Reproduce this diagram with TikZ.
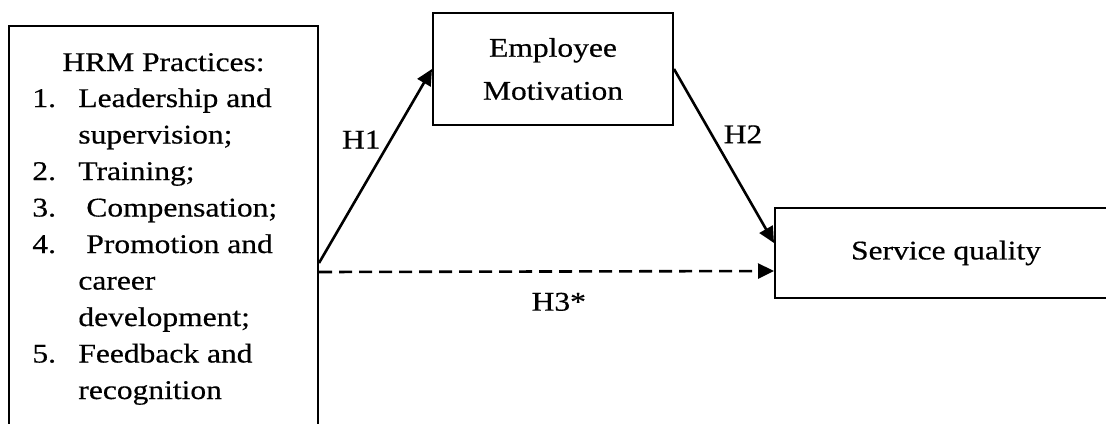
\documentclass[tikz,border=0pt]{standalone}
\usepackage{fontspec}
\setmainfont[FakeStretch=1.167, FakeBold=0.5]{Liberation Serif}
\usetikzlibrary{arrows.meta, positioning}
\tikzstyle{arrow} = [line width=1.3pt,-{Triangle[length=8pt,width=7.5pt]}]
\tikzstyle{dasharrow} = [arrow, dash pattern=on 6.5pt off 3.5pt]
\tikzstyle{rec} = [rectangle, line width=1pt, draw=black, text centered, inner sep=0pt]
\tikzstyle{lbl} = [inner sep=0pt]

\begin{document}
\begin{tikzpicture}[x=0.5pt, y=-0.5pt, font=\fontsize{13.5}{18.25}\selectfont]
				\useasboundingbox (0,0) rectangle (1106,423);
				\node (hrm) [rec, minimum width=154.5pt, minimum height=246pt, anchor=north] at (163.5,25) {};
				\node (hrmtitle) [lbl, anchor=base] at (163.5,71) {HRM Practices:};
				\node (hrmlist) [lbl, anchor=base west] at (32,107) {\begin{tabular}[t]{@{}p{23pt}@{}l@{}}
					1. & Leadership and\\
					   & supervision;\\
					2. & Training;\\
					3. & \hspace{4pt}Compensation;\\
					4. & \hspace{4pt}Promotion and\\
					   & career\\
					   & development;\\
					5. & Feedback and\\
					   & recognition
				\end{tabular}};
				\node (emp) [rec, minimum width=120pt, minimum height=56pt, align=center, font=\fontsize{13.5}{21.5}\selectfont] at (553,69) {Employee\\Motivation};
				\node (sq) [rec, minimum width=171pt, minimum height=45pt] at (946,253) {Service quality};
				\draw [arrow] ([yshift=4.5pt]hrm.east) -- (emp.west) node (h1) [lbl, pos=0.636, anchor=east, xshift=-4.5pt] {H1};
				\draw [arrow] (emp.east) -- ([yshift=5pt]sq.west) node (h2) [lbl, pos=0.375, anchor=west, xshift=5.5pt] {H2};
				\draw [dasharrow] (hrm.east) -- ([yshift=-9pt]sq.west) node (h3) [lbl, pos=0.527, anchor=north, yshift=-10pt] {H3*};
			\end{tikzpicture}
\end{document}
